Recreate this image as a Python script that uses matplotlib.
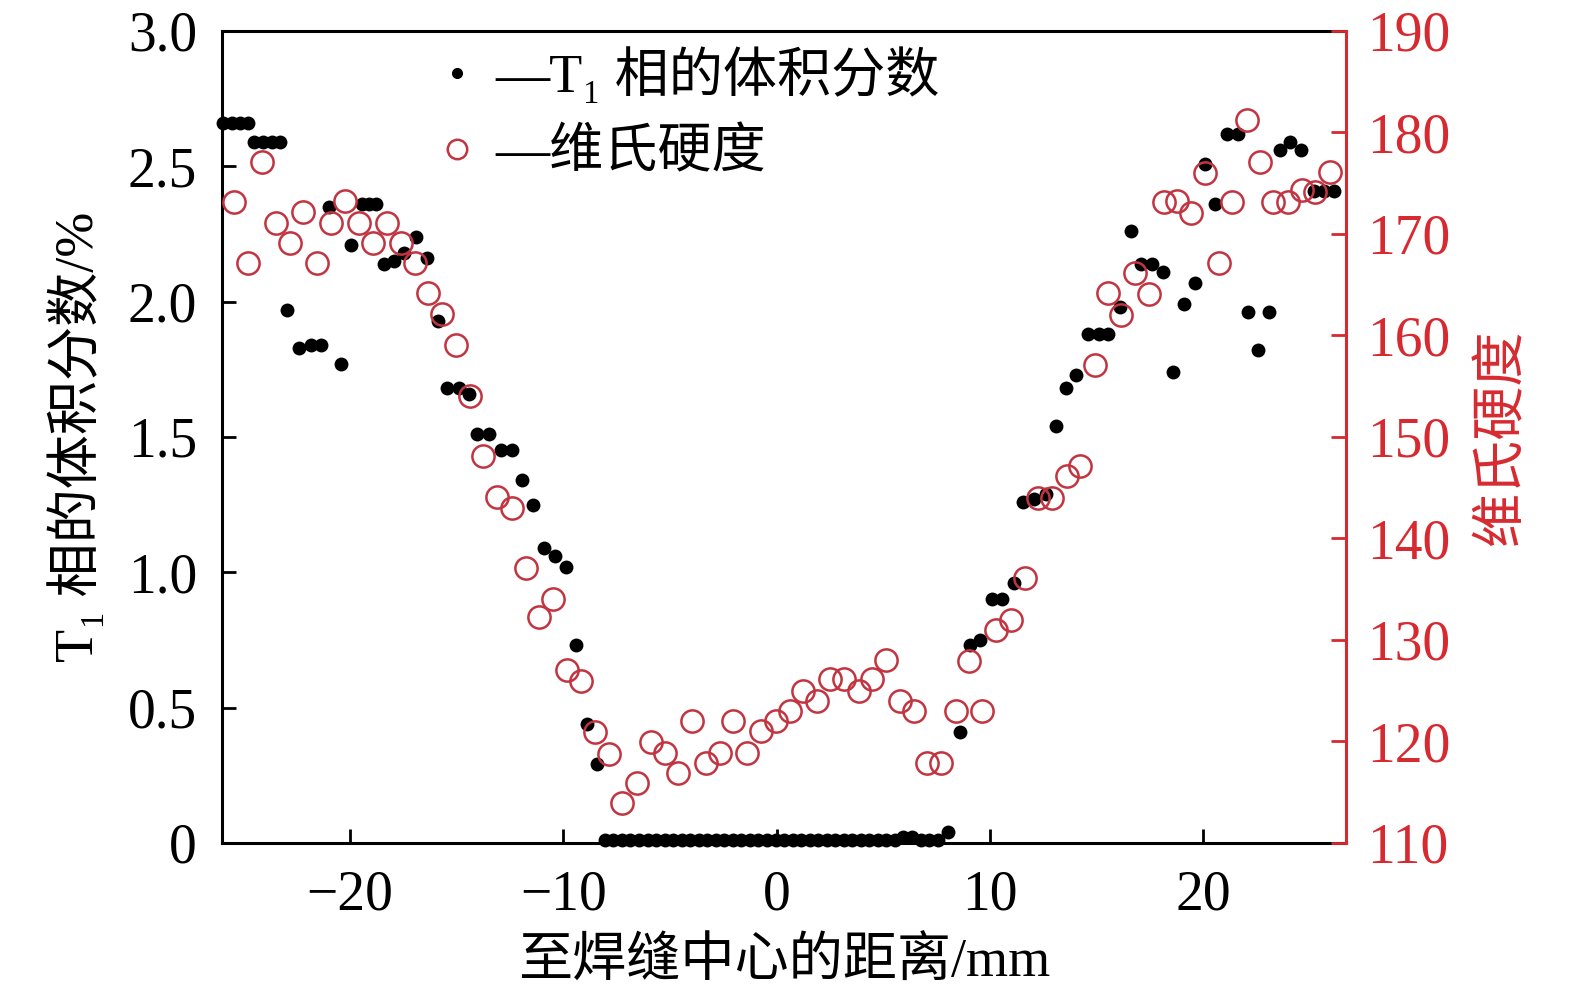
import matplotlib
matplotlib.use("Agg")
import matplotlib.pyplot as plt
from matplotlib.lines import Line2D

# ── Data ──────────────────────────────────────────────────────────────────────

# T1 phase volume fraction (%), left axis
t1_x = [
    -25.97, -25.55, -25.18, -24.80, -24.52, -24.10, -23.68, -23.30,
    -22.94, -22.41, -21.85, -21.38, -20.99, -20.44, -19.97,
    -19.42, -19.13, -18.80, -18.41, -17.94, -17.47, -16.92, -16.41,
    -15.86, -15.44, -14.89, -14.43, -14.03, -13.49, -12.94, -12.39,
    -11.92, -11.41, -10.91, -10.41, -9.89, -9.42, -8.91, -8.41,
    -8.05, -7.65, -7.25, -6.85, -6.45, -6.05, -5.65, -5.25, -4.85, -4.45,
    -4.05, -3.65, -3.25, -2.85, -2.45, -2.05, -1.65, -1.25, -0.85, -0.45,
    -0.05, 0.35, 0.75, 1.15, 1.55, 1.95, 2.35, 2.75, 3.15, 3.55,
    3.95, 4.35, 4.75, 5.15, 5.55, 5.95, 6.35, 6.75, 7.15, 7.55,
    8.06, 8.59, 9.06, 9.56, 10.11, 10.58, 11.13, 11.55, 12.06, 12.61,
    13.08, 13.58, 14.06, 14.58, 15.10, 15.56, 16.09, 16.60, 17.07, 17.61,
    18.13, 18.60, 19.10, 19.60, 20.07, 20.58, 21.13, 21.63, 22.11, 22.56,
    23.11, 23.60, 24.06, 24.57, 25.19, 25.66, 26.13,
]
t1_val = [
    2.66, 2.66, 2.66, 2.66, 2.59, 2.59, 2.59, 2.59,
    1.97, 1.83, 1.84, 1.84, 2.35, 1.77, 2.21,
    2.36, 2.36, 2.36, 2.14, 2.15, 2.18, 2.24, 2.16,
    1.93, 1.68, 1.68, 1.66, 1.51, 1.51, 1.45, 1.45,
    1.34, 1.25, 1.09, 1.06, 1.02, 0.73, 0.44, 0.29,
    0.01, 0.01, 0.01, 0.01, 0.01, 0.01, 0.01, 0.01, 0.01, 0.01,
    0.01, 0.01, 0.01, 0.01, 0.01, 0.01, 0.01, 0.01, 0.01, 0.01,
    0.01, 0.01, 0.01, 0.01, 0.01, 0.01, 0.01, 0.01, 0.01, 0.01,
    0.01, 0.01, 0.01, 0.01, 0.01, 0.02, 0.02, 0.01, 0.01, 0.01,
    0.04, 0.41, 0.73, 0.75, 0.90, 0.90, 0.96, 1.26, 1.27, 1.29,
    1.54, 1.68, 1.73, 1.88, 1.88, 1.88, 1.98, 2.26, 2.14, 2.14,
    2.11, 1.74, 1.99, 2.07, 2.51, 2.36, 2.62, 2.62, 1.96, 1.82,
    1.96, 2.56, 2.59, 2.56, 2.41, 2.41, 2.41,
]

# Vickers hardness (HV), right axis
hv_x = [
    -25.44, -24.79, -24.11, -23.49, -22.83, -22.19, -21.53, -20.91,
    -20.24, -19.58, -18.91, -18.28, -17.63, -16.97, -16.35, -15.71,
    -15.05, -14.38, -13.75, -13.09, -12.39, -11.77, -11.16, -10.47,
    -9.85, -9.16, -8.53, -7.86, -7.23, -6.56, -5.91, -5.25,
    -4.63, -3.95, -3.33, -2.67, -2.03, -1.37, -0.72, -0.05,
    0.62, 1.25, 1.88, 2.50, 3.16, 3.86, 4.49, 5.11,
    5.78, 6.44, 7.07, 7.72, 8.39, 9.02, 9.64, 10.31,
    10.97, 11.63, 12.25, 12.93, 13.60, 14.22, 14.91, 15.53,
    16.16, 16.83, 17.45, 18.16, 18.79, 19.44, 20.07, 20.74,
    21.36, 22.07, 22.69, 23.29, 23.97, 24.65, 25.27, 25.94,
]
hv_val = [
    173.1, 167.1, 177.1, 171.1, 169.1, 172.2, 167.1, 171.1,
    173.2, 171.1, 169.1, 171.1, 169.1, 167.1, 164.2, 162.1,
    159.1, 154.0, 148.1, 144.1, 143.0, 137.1, 132.3, 134.0,
    127.0, 126.0, 120.9, 118.8, 113.9, 115.9, 119.9, 118.9,
    116.9, 122.0, 117.9, 118.9, 122.0, 118.9, 121.0, 122.0,
    123.0, 125.0, 124.0, 126.1, 126.1, 125.0, 126.1, 128.0,
    124.0, 123.0, 117.9, 117.9, 123.0, 127.9, 123.0, 131.0,
    132.0, 136.1, 144.0, 144.0, 146.1, 147.1, 157.1, 164.2,
    162.0, 166.1, 164.1, 173.1, 173.2, 172.1, 176.0, 167.1,
    173.1, 181.2, 177.1, 173.1, 173.1, 174.3, 174.1, 176.1,
]

left_ticks = [0, 0.5, 1.0, 1.5, 2.0, 2.5, 3.0]
left_labels = ["0", "0.5", "1.0", "1.5", "2.0", "2.5", "3.0"]
right_ticks = [110, 120, 130, 140, 150, 160, 170, 180, 190]
x_ticks = [-20, -10, 0, 10, 20]

RED_AXIS = "#d62a30"    # right spine, ticks, labels
RED_MARK = "#c2343f"    # hardness circles
FS = 40      # tick numbers
FS_CJK = 39  # Chinese labels

plt.rcParams["font.family"] = ["Liberation Serif", "DejaVu Serif", "Noto Sans CJK SC"]
plt.rcParams["axes.unicode_minus"] = True


def main():
    fig = plt.figure(figsize=(15.75, 9.94), dpi=100)
    ax = fig.add_axes([0.141, 0.152, 0.7136, 0.8169])
    ax2 = ax.twinx()

    ax.plot(t1_x, t1_val, "o", color="black", ms=10, mew=0, clip_on=False, zorder=3)
    ax2.plot(hv_x, hv_val, "o", mfc="none", mec=RED_MARK, ms=16, mew=1.8,
             clip_on=False, zorder=4)

    ax.set_xlim(-26, 26.7)
    ax.set_ylim(0, 3.0)
    ax2.set_ylim(110, 190)

    ax.set_xticks(x_ticks)
    ax.set_yticks(left_ticks)
    ax.set_yticklabels(left_labels)
    ax2.set_yticks(right_ticks)

    for s in ["left", "top", "bottom"]:
        ax.spines[s].set_linewidth(2.2)
        ax2.spines[s].set_visible(False)
    ax.spines["right"].set_visible(False)
    ax2.spines["right"].set_color(RED_AXIS)
    ax2.spines["right"].set_linewidth(2.2)

    ax.tick_params(axis="both", direction="in", length=10, width=2, labelsize=FS)
    ax.tick_params(axis="y", pad=18)
    ax.tick_params(axis="x", pad=19)
    ax2.tick_params(axis="y", direction="in", length=11, width=2, labelsize=FS,
                    colors=RED_AXIS, pad=15)

    ax.set_xlabel("至焊缝中心的距离/mm", fontsize=FS_CJK, labelpad=12)
    ax.set_ylabel("T\u2081 相的体积分数/%", fontsize=FS_CJK, labelpad=16)
    ax2.set_ylabel("维氏硬度", fontsize=FS_CJK, color=RED_AXIS, labelpad=20)

    handles = [
        Line2D([], [], ls="none", marker="o", color="black", ms=8, mew=0),
        Line2D([], [], ls="none", marker="o", mfc="none", mec=RED_MARK, ms=14, mew=1.8),
    ]
    labels = ["—T\u2081 相的体积分数", "—维氏硬度"]
    ax.legend(handles, labels, loc="upper left", bbox_to_anchor=(0.1895, 0.980),
              frameon=False, fontsize=FS_CJK, handlelength=0.8, handletextpad=0.32,
              labelspacing=0.47, borderaxespad=0, borderpad=0)

    fig.savefig("out.png", dpi=100)


if __name__ == "__main__":
    main()
